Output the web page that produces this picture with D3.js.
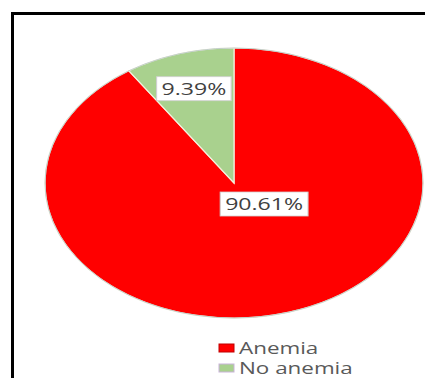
<!DOCTYPE html>
<html>
<head>
<meta charset="utf-8">
<script src="https://cdn.jsdelivr.net/npm/d3@7"></script>
<style>
  body { margin: 0; background: #fff; }
  svg { display: block; }
</style>
</head>
<body>
<div id="chart"></div>
<script>
// data
var categories = ['Anemia', 'No anemia'];
var values = [90.61, 9.39];
var valueLabels = ['90.61%', '9.39%'];
var colors = ['#ff0000', '#a9d18e'];
var markerStroke = ['#c00000', '#c9b3d9'];

var width = 425, height = 378;
var cx = 234, cy = 183, rx = 189, ry = 135;
var stretch = rx / ry;

var svg = d3.select('#chart').append('svg')
  .attr('width', width)
  .attr('height', height);

// frame (top + left only)
svg.append('line')
  .attr('x1', 11).attr('x2', width)
  .attr('y1', 13.5).attr('y2', 13.5)
  .attr('stroke', '#000').attr('stroke-width', 3);
svg.append('line')
  .attr('x1', 12.5).attr('x2', 12.5)
  .attr('y1', 12).attr('y2', height)
  .attr('stroke', '#000').attr('stroke-width', 3);

var pie = d3.pie().sort(null).value(function(d) { return d; });
var arcs = pie(values);
var arc = d3.arc().innerRadius(0).outerRadius(1);

//pie drawn on unit circle then stretched into ellipse
var g = svg.append('g')
  .attr('transform', 'translate(' + cx + ',' + cy + ') scale(' + rx + ',' + ry + ')');

g.selectAll('path')
  .data(arcs)
  .enter().append('path')
  .attr('d', arc)
  .attr('fill', function(d, i) { return colors[i]; })
  .attr('stroke', '#f4f0dc')
  .attr('stroke-width', 1.2)
  .attr('vector-effect', 'non-scaling-stroke');

g.append('ellipse')
  .attr('rx', 1).attr('ry', 1)
  .attr('fill', 'none')
  .attr('stroke', '#b8c8c8')
  .attr('stroke-width', 0.8)
  .attr('vector-effect', 'non-scaling-stroke');

// label anchors in unit circle coords
function labelPos(d, i) {
  if (i === 0) {
    var c = d3.arc().innerRadius(0).outerRadius(0.34).centroid(d);
    return [c[0] + 0.11, c[1] - 0.007];
  }
  return d3.arc().innerRadius(0.73).outerRadius(0.73).centroid(d);
}

var labels = svg.selectAll('.lbl')
  .data(arcs)
  .enter().append('g')
  .attr('class', 'lbl')
  .attr('transform', function(d, i) {
    var p = labelPos(d, i);
    return 'translate(' + (cx + p[0] * rx) + ',' + (cy + p[1] * ry) + ') scale(' + stretch + ',1)';
  });

labels.append('rect').attr('class', 'box');
labels.append('text')
  .attr('text-anchor', 'middle')
  .attr('dy', '0.36em')
  .attr('font-family', '"Open Sans", sans-serif')
  .attr('font-size', 16.5)
  .attr('fill', '#404040')
  .text(function(d, i) { return valueLabels[i]; });

labels.each(function() {
  var t = d3.select(this).select('text').node().getBBox();
  d3.select(this).select('rect')
    .attr('x', t.x - 3.5)
    .attr('y', -12)
    .attr('width', t.width + 7)
    .attr('height', 24)
    .attr('fill', '#fff')
    .attr('stroke', '#d0d0d0')
    .attr('stroke-width', 0.8);
});

// legend
var legend = svg.append('g')
  .selectAll('g')
  .data(categories)
  .enter().append('g')
  .attr('transform', function(d, i) {
    return 'translate(219,' + (348 + i * 20) + ')';
  });

legend.append('rect')
  .attr('x', 0).attr('y', -4)
  .attr('width', 15).attr('height', 8)
  .attr('fill', function(d, i) { return colors[i]; })
  .attr('stroke', function(d, i) { return markerStroke[i]; })
  .attr('stroke-width', 1);

legend.append('text')
  .attr('transform', 'translate(20,0) scale(' + stretch + ',1)')
  .attr('dy', '0.36em')
  .attr('font-family', '"Open Sans", sans-serif')
  .attr('font-size', 16)
  .attr('fill', '#595959')
  .text(function(d) { return d; });
</script>
</body>
</html>
